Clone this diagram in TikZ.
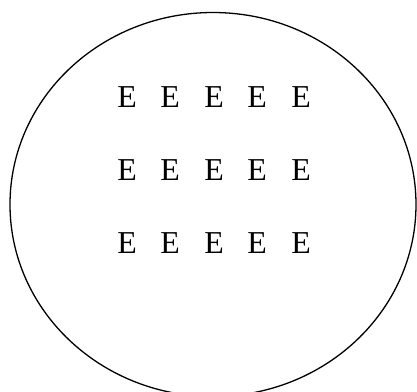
\documentclass[tikz,border=0pt]{standalone}
\usepackage{fontspec}
\setmainfont{Liberation Serif}
\usetikzlibrary{shapes.geometric}
\begin{document}
\begin{tikzpicture}[x=1bp,y=-1bp,
  letter/.style={anchor=base,inner sep=0pt,font=\fontsize{32}{38}\selectfont},
  outline/.style={draw=black,line width=1.3bp}]
\useasboundingbox (0,0) rectangle (417,392);
\clip (0,0) rectangle (417,392);
\node[outline,ellipse,minimum width=406bp,minimum height=384bp,inner sep=0pt] (ring) at (213,204.5) {};
\foreach \r/\yy in {1/107,2/180,3/253}{
  \foreach \c/\xx in {1/127,2/170,3/214,4/257,5/301}{
    \node[letter] (e\r\c) at (\xx,\yy) {E};
  }
}
\end{tikzpicture}
\end{document}
